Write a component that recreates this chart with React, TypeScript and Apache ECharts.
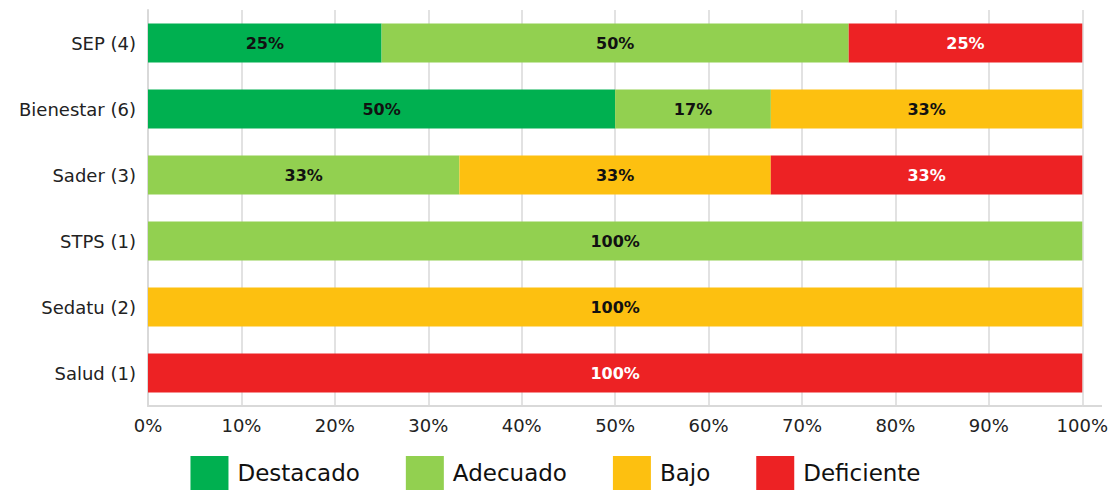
import React, { useEffect, useRef } from "react";
import * as echarts from "echarts";

const categories = ["SEP (4)", "Bienestar (6)", "Sader (3)", "STPS (1)", "Sedatu (2)", "Salud (1)"];
const destacado = [25, 50, 0, 0, 0, 0];
const adecuado = [50, 16.67, 33.33, 100, 0, 0];
const bajo = [0, 33.33, 33.33, 0, 100, 0];
const deficiente = [25, 0, 33.34, 0, 0, 100];
const seriesNames = ["Destacado", "Adecuado", "Bajo", "Deficiente"];
const colors = ["#00B050", "#92D050", "#FDC010", "#ED2224"];
const labelColors = ["#111", "#111", "#111", "#fff"];

const FONT = "DejaVu Sans";

export default function App() {
  const ref = useRef<HTMLDivElement>(null);
  useEffect(() => {
    if (!ref.current) return;
    const chart = echarts.init(ref.current, null, { renderer: "svg" });
    const all = [destacado, adecuado, bajo, deficiente];
    const gridLeft = 148;
    const gridRight = 28;
    const gridTop = 10;
    const gridBottom = 85;
    chart.setOption({
      animation: false,
      textStyle: { fontFamily: FONT },
      color: colors,
      grid: { left: gridLeft, right: gridRight, top: gridTop, bottom: gridBottom, containLabel: false },
      legend: {
        data: seriesNames,
        left: "center",
        top: 456,
        padding: 0,
        itemWidth: 38,
        itemHeight: 34,
        itemGap: 46,
        icon: "rect",
        textStyle: { fontFamily: FONT, fontSize: 23, color: "#111", padding: [0, 0, 0, 4] },
      },
      xAxis: {
        type: "value",
        min: 0,
        max: 100,
        interval: 10,
        axisLabel: { formatter: "{value}%", fontSize: 18, color: "#222", margin: 10, fontFamily: FONT },
        axisLine: { show: true, lineStyle: { color: "#d9d9d9", width: 2 } },
        axisTick: { show: false },
        splitLine: { show: true, lineStyle: { color: "#d9d9d9", width: 1.5 } },
      },
      yAxis: {
        type: "category",
        data: categories,
        inverse: true,
        axisLabel: { fontSize: 18, color: "#222", margin: 12, fontFamily: FONT },
        axisLine: { show: true, lineStyle: { color: "#d9d9d9", width: 2 } },
        axisTick: { show: false },
      },
      graphic: [
        {
          type: "line",
          shape: { x1: 1111 - gridRight, y1: 491 - gridBottom, x2: 1102, y2: 491 - gridBottom },
          style: { stroke: "#d9d9d9", lineWidth: 2 },
        },
      ],
      series: seriesNames.map((name, i) => ({
        name,
        type: "bar",
        stack: "total",
        barWidth: 39,
        data: all[i].map((v) => (v === 0 ? null : v)),
        itemStyle: { color: colors[i] },
        label: {
          show: true,
          position: "inside",
          color: labelColors[i],
          fontWeight: "bold",
          fontSize: 16,
          fontFamily: FONT,
          formatter: (p: any) => (p.value ? Math.round(p.value) + "%" : ""),
        },
      })),
    });
    return () => chart.dispose();
  }, []);
  return <div ref={ref} style={{ width: 1111, height: 491, position: "absolute", left: 0, top: 0 }} />;
}
